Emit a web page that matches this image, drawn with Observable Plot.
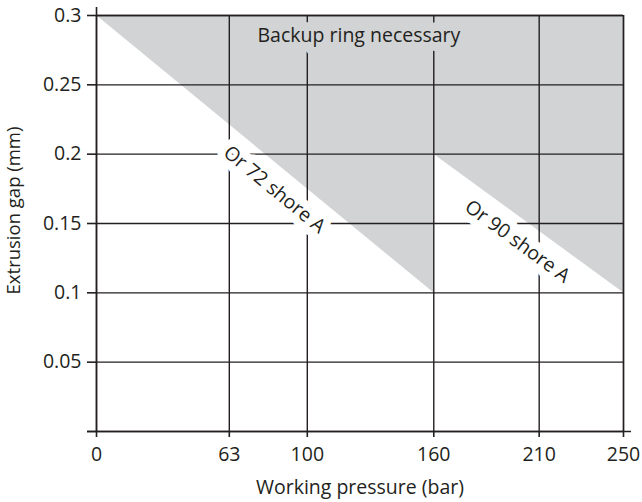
<!DOCTYPE html>
<html>
<head>
<meta charset="utf-8">
<script src="https://cdn.jsdelivr.net/npm/d3@7"></script>
<script src="https://cdn.jsdelivr.net/npm/@observablehq/plot@0.6"></script>
<style>
  html, body { margin: 0; padding: 0; background: #fff; }
  #chart svg { display: block; }
</style>
</head>
<body>
<div id="chart"></div>
<script>
// Axis ticks
const xTicks = [0, 63, 100, 160, 210, 250];
const yTicks = [0, 0.05, 0.1, 0.15, 0.2, 0.25, 0.3];

// Boundary of the "backup ring necessary" region (shaded above this line up to 0.3)
const boundaryPressure = [0, 160, 160, 250];
const boundaryGap = [0.3, 0.1, 0.2, 0.1];
const gapCeiling = 0.3;

// Annotations
const regionLabel = "Backup ring necessary";
const regionLabelAt = {pressure: 124.5, gap: 0.2854};
const shore72Label = "Or 72 shore A";
const shore72At = {pressure: 84.4, gap: 0.1744};
const shore90Label = "Or 90 shore A";
const shore90At = {pressure: 199.7, gap: 0.137};

const xLabel = "Working pressure (bar)";
const yLabel = "Extrusion gap (mm)";

const boundary = boundaryPressure.map((p, i) => ({pressure: p, gap: boundaryGap[i], top: gapCeiling}));

const ink = "#231f20";
const shade = "#d1d3d4";
const font = "Open Sans, sans-serif";
const fs = 19.5;

const chart = Plot.plot({
  width: 642,
  height: 502,
  marginLeft: 96,
  marginRight: 19,
  marginTop: 15,
  marginBottom: 71,
  style: {fontFamily: font, fontSize: fs + "px", color: ink, background: "#fff", overflow: "visible"},
  x: {domain: [0, 250]},
  y: {domain: [0, 0.3]},
  marks: [
    Plot.areaY(boundary, {x: "pressure", y1: "gap", y2: "top", fill: shade}),
    Plot.ruleX(xTicks, {stroke: ink, strokeWidth: 1.4}),
    Plot.ruleY(yTicks, {stroke: ink, strokeWidth: 1.4}),
    Plot.text([regionLabel], {x: () => regionLabelAt.pressure, y: () => regionLabelAt.gap, text: d => d,
      fill: ink, stroke: shade, strokeWidth: 18, strokeLinejoin: "round", fontSize: fs}),
    Plot.text([shore72Label], {x: () => shore72At.pressure, y: () => shore72At.gap, text: d => d,
      rotate: 39.4, fill: ink, stroke: "#fff", strokeWidth: 16, strokeLinejoin: "round", fontSize: fs}),
    Plot.text([shore90Label], {x: () => shore90At.pressure, y: () => shore90At.gap, text: d => d,
      rotate: 36.5, fill: ink, stroke: "#fff", strokeWidth: 16, strokeLinejoin: "round", fontSize: fs}),
    // frame
    Plot.ruleY([gapCeiling], {stroke: ink, strokeWidth: 1.4}),
    Plot.ruleX([250], {stroke: ink, strokeWidth: 1.4}),
    Plot.ruleX([0], {stroke: ink, strokeWidth: 1.6, insetTop: -8}),
    Plot.ruleY([0], {stroke: ink, strokeWidth: 1.6, insetLeft: -9, insetRight: -8}),
    Plot.axisX({ticks: xTicks, tickSize: 6, tickPadding: 10, tickFormat: d => String(d), label: null,
      stroke: ink, strokeWidth: 1.6, fill: ink, fontSize: fs}),
    Plot.axisY({ticks: yTicks, tickSize: 9, tickPadding: 6, tickFormat: d => d === 0 ? "" : String(d), label: null,
      stroke: ink, strokeWidth: 1.6, fill: ink, fontSize: fs}),
    Plot.text([xLabel], {frameAnchor: "bottom", dy: 56, text: d => d, fill: ink, fontSize: fs, lineAnchor: "middle"}),
    Plot.text([yLabel], {frameAnchor: "left", dx: -82, dy: -13, rotate: -90, textAnchor: "middle", text: d => d,
      fill: ink, fontSize: 18.5, lineAnchor: "middle"})
  ]
});
document.getElementById("chart").appendChild(chart);
</script>
</body>
</html>
